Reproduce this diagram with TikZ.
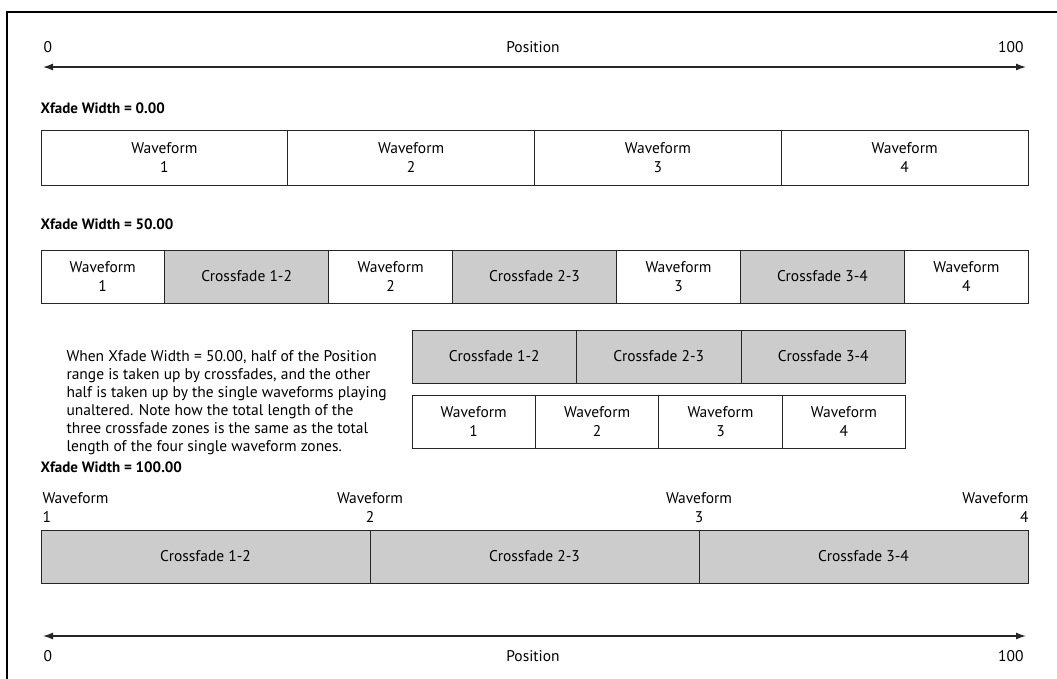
\documentclass[tikz,border=0pt]{standalone}
\usepackage{fontspec}
\setmainfont{PT Sans}
\usetikzlibrary{positioning,arrows.meta}

\tikzset{
  txt/.style={font=\fontsize{15.5}{19}\selectfont},
  wave/.style={txt,draw=black!85,fill=white,line width=1pt,minimum height=53pt,
    inner sep=0pt,outer sep=0pt,align=center},
  xfade/.style={wave,fill=black!20},
  head/.style={anchor=base west,font=\fontsize{15}{19}\selectfont\bfseries},
  posaxis/.style={line width=1.3pt,black!85,{Latex[length=10pt,width=7pt]}-{Latex[length=10pt,width=7pt]}}
}

\begin{document}
\begin{tikzpicture}[x=1pt,y=-1pt]

  \useasboundingbox (0,0) rectangle (1057,678);
  % frame
  \draw[line width=2.5pt] (1062,12) -- (7,12) -- (7,683);

  % position axis on top
  \coordinate (top0) at (43,67);
  \coordinate (top1) at (1026,67);
  \draw[posaxis] (top0) -- (top1);
  \node[txt,anchor=base west] (topzero) at (40,52) {0};
  \node[txt,anchor=base] (toppos) at (533,52) {Position};
  \node[txt,anchor=base east] (tophund) at (1027,52) {100};

  % xfade width = 0
  \node[head] (h0) at (37,113) {Xfade Width = 0.00};
  \node[wave,minimum width=246.75pt,minimum height=55pt,anchor=north west] (a1) at (41,130) {Waveform\\1};
  \node[wave,minimum width=246.75pt,minimum height=55pt,right=0pt of a1] (a2) {Waveform\\2};
  \node[wave,minimum width=246.75pt,minimum height=55pt,right=0pt of a2] (a3) {Waveform\\3};
  \node[wave,minimum width=246.75pt,minimum height=55pt,right=0pt of a3] (a4) {Waveform\\4};

  % xfade width = 50
  \node[head] (h50) at (37,229) {Xfade Width = 50.00};
  \node[wave,minimum width=123.4pt,anchor=north west] (b1) at (41,250) {Waveform\\1};
  \node[xfade,minimum width=164.5pt,right=0pt of b1] (bx12) {Crossfade 1-2};
  \node[wave,minimum width=123.4pt,right=0pt of bx12] (b2) {Waveform\\2};
  \node[xfade,minimum width=164.5pt,right=0pt of b2] (bx23) {Crossfade 2-3};
  \node[wave,minimum width=123.4pt,right=0pt of bx23] (b3) {Waveform\\3};
  \node[xfade,minimum width=164.5pt,right=0pt of b3] (bx34) {Crossfade 3-4};
  \node[wave,minimum width=123.4pt,right=0pt of bx34] (b4) {Waveform\\4};

  \node[txt,anchor=north west,align=left,font=\fontsize{15.5}{18}\selectfont] (note) at (63,347)
    {When Xfade Width = 50.00, half of the Position\\
     range is taken up by crossfades, and the other\\
     half is taken up by the single waveforms playing\\
     unaltered. Note how the total length of the\\
     three crossfade zones is the same as the total\\
     length of the four single waveform zones.};

  \node[xfade,minimum width=164.5pt,anchor=north west] (sx12) at (412,330) {Crossfade 1-2};
  \node[xfade,minimum width=164.5pt,right=0pt of sx12] (sx23) {Crossfade 2-3};
  \node[xfade,minimum width=164.5pt,right=0pt of sx23] (sx34) {Crossfade 3-4};
  \node[wave,minimum width=123.4pt,anchor=north west] (s1) at (412,395) {Waveform\\1};
  \node[wave,minimum width=123.4pt,right=0pt of s1] (s2) {Waveform\\2};
  \node[wave,minimum width=123.4pt,right=0pt of s2] (s3) {Waveform\\3};
  \node[wave,minimum width=123.4pt,right=0pt of s3] (s4) {Waveform\\4};

  % xfade width = 100
  \node[head] (h100) at (37,472) {Xfade Width = 100.00};
  \node[xfade,minimum width=329pt,anchor=north west] (c12) at (41,530) {Crossfade 1-2};
  \node[xfade,minimum width=329pt,right=0pt of c12] (c23) {Crossfade 2-3};
  \node[xfade,minimum width=329pt,right=0pt of c23] (c34) {Crossfade 3-4};
  \node[txt,align=left,above=4pt of c12.north west,anchor=south west,xshift=-2pt] (l1) {Waveform\\1};
  \node[txt,align=center,above=4pt of c12.north east] (l2) {Waveform\\2};
  \node[txt,align=center,above=4pt of c23.north east] (l3) {Waveform\\3};
  \node[txt,align=right,above=4pt of c34.north east,anchor=south east,xshift=4pt] (l4) {Waveform\\4};

  % position axis at bottom
  \coordinate (bot0) at (43,636);
  \coordinate (bot1) at (1026,636);
  \draw[posaxis] (bot0) -- (bot1);
  \node[txt,anchor=base west] (botzero) at (40,661) {0};
  \node[txt,anchor=base] (botpos) at (533,661) {Position};
  \node[txt,anchor=base east] (bothund) at (1027,661) {100};

\end{tikzpicture}
\end{document}
